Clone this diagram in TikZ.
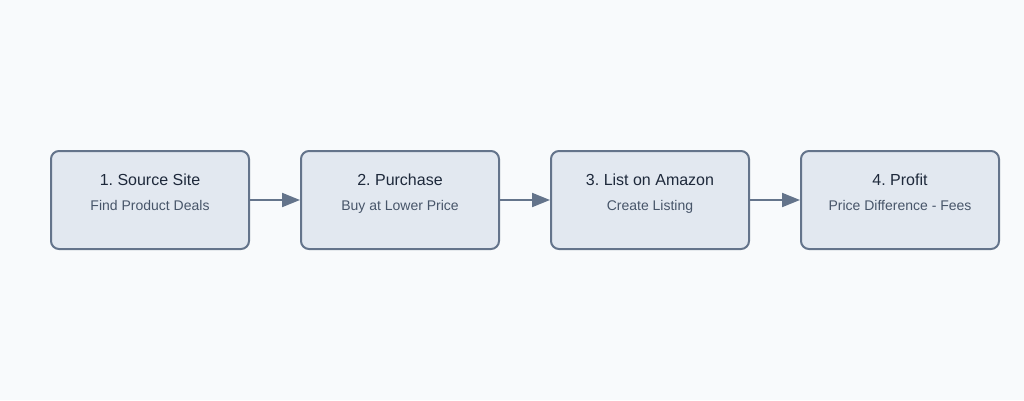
\documentclass[tikz,border=0pt]{standalone}
\usepackage{fontspec}
\setmainfont{Liberation Sans}
\usetikzlibrary{positioning,arrows.meta}

\definecolor{pagebg}{HTML}{F8FAFC}
\definecolor{boxfill}{HTML}{E2E8F0}
\definecolor{boxline}{HTML}{64748B}
\definecolor{titletext}{HTML}{1E293B}
\definecolor{subtext}{HTML}{475569}

\tikzset{
		stepbox/.style  = {shape=rectangle, rounded corners=8pt,
				draw=boxline, line width=2pt, fill=boxfill,
				minimum width=198pt, minimum height=98pt, inner sep=0pt},
		steptitle/.style = {anchor=base, inner sep=0pt, text=titletext,
				font=\fontsize{16}{19}\selectfont},
		stepsub/.style   = {anchor=base, inner sep=0pt, text=subtext,
				font=\fontsize{14}{17}\selectfont},
		flow/.style      = {draw=boxline, line width=2pt,
				-{Triangle[length=18pt, width=14pt]}}
	}

\frenchspacing
\begin{document}
\begin{tikzpicture}
				[x=1pt, y=1pt,
					node distance = 50pt
				]
				\fill [pagebg] (0,0) rectangle (1024,400);
				\useasboundingbox (0,0) rectangle (1024,400);

				\node [stepbox] (source) at (150,200) {};
				\node [stepbox, right=of source] (purchase) {};
				\node [stepbox, right=of purchase] (listing) {};
				\node [stepbox, right=of listing] (profit) {};

				\node [steptitle] (sourcetitle) at ([yshift=15pt]source.center) {1. Source Site};
				\node [stepsub] (sourcesub) at ([yshift=-10pt]source.center) {Find Product Deals};
				\node [steptitle] (purchasetitle) at ([yshift=15pt]purchase.center) {2. Purchase};
				\node [stepsub] (purchasesub) at ([yshift=-10pt]purchase.center) {Buy at Lower Price};
				\node [steptitle] (listingtitle) at ([yshift=15pt]listing.center) {3. List on Amazon};
				\node [stepsub] (listingsub) at ([yshift=-10pt]listing.center) {Create Listing};
				\node [steptitle] (profittitle) at ([yshift=15pt]profit.center) {4. Profit};
				\node [stepsub] (profitsub) at ([yshift=-10pt]profit.center) {Price Difference - Fees};

				\draw [flow] (source) -- (purchase);
				\draw [flow] (purchase) -- (listing);
				\draw [flow] (listing) -- (profit);
			\end{tikzpicture}
\end{document}
